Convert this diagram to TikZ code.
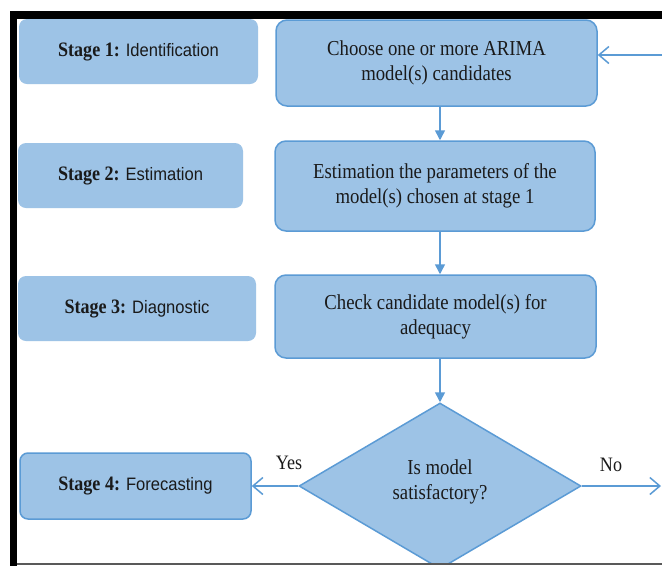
\documentclass[tikz,border=0pt]{standalone}
\usepackage{fontspec}
\setmainfont{Liberation Serif}[FakeStretch=0.88]
\newfontfamily\arialfont{Liberation Sans}[FakeStretch=0.92]
\usetikzlibrary{shapes.geometric,arrows.meta}
\definecolor{stagefill}{HTML}{9DC3E6}
\definecolor{boxfill}{HTML}{9DC3E6}
\definecolor{edgeblue}{HTML}{5B9BD5}
\definecolor{txt}{HTML}{1A1A1A}
\tikzset{
  stagebox/.style={fill=stagefill, rounded corners=8pt, inner sep=0pt, font=\fontsize{20.5}{24}\selectfont, text=txt},
  procbox/.style={fill=boxfill, draw=edgeblue, line width=1.5pt, rounded corners=11pt, inner sep=0pt, align=center,
     font=\fontsize{21.3}{25}\selectfont, text=txt},
  flow/.style={draw=edgeblue, line width=1.5pt},
  downarrow/.style={flow, -{Triangle[length=10pt,width=10pt]}},
  sidearrow/.style={flow, -{Straight Barb[length=10pt,width=17pt,line width=1.5pt]}},
  lbl/.style={font=\fontsize{20.5}{24}\selectfont, text=txt, inner sep=0pt}
}
\newcommand{\stg}[2]{\textbf{Stage #1:} {\arialfont\fontsize{18}{22}\selectfont #2}}
\begin{document}
\begin{tikzpicture}[x=1pt,y=-1pt]
\useasboundingbox (0,0) rectangle (662,566);
\fill[white] (0,0) rectangle (662,566);
% frame
\fill[black] (10,11) rectangle (662,19);
\fill[black] (10,11) rectangle (17,566);
\fill[black!65] (17,562.5) rectangle (662,564.5);
% stage boxes
\node[stagebox, minimum width=239pt, minimum height=65pt] (s1) at (138.5,51.5) {\stg{1}{Identification}};
\node[stagebox, minimum width=225pt, minimum height=65pt] (s2) at (130.5,175.5) {\stg{2}{Estimation}};
\node[stagebox, minimum width=238pt, minimum height=65pt] (s3) at (137,308.5) {\stg{3}{Diagnostic}};
\node[stagebox, draw=edgeblue, line width=1.5pt, minimum width=231pt, minimum height=66pt] (s4) at (135.5,486) {\stg{4}{Forecasting}};
% process boxes
\node[procbox, minimum width=321pt, minimum height=86pt] (b1) at (436.5,63) {Choose one or more ARIMA\\model(s) candidates};
\node[procbox, minimum width=320pt, minimum height=90pt] (b2) at (435,186) {Estimation the parameters of the\\model(s) chosen at stage 1};
\node[procbox, minimum width=321pt, minimum height=83pt] (b3) at (435.5,316.5) {Check candidate model(s) for\\adequacy};
% decision
\begin{scope}
\clip (17,19) rectangle (662,562.5);
\node[diamond, fill=boxfill, draw=edgeblue, line width=1.5pt, inner sep=0pt, minimum width=282pt, minimum height=166pt] (d) at (440,486) {};
\end{scope}
\node[lbl, align=center, font=\fontsize{21.3}{25}\selectfont] (dq) at (440,482) {Is model\\satisfactory?};
% connectors
\draw[downarrow] (b1.south -| d.north) -- (b2.north -| d.north);
\draw[downarrow] (b2.south -| d.north) -- (b3.north -| d.north);
\draw[downarrow] (b3.south -| d.north) -- (d.north);
\draw[sidearrow] (d.west) -- (s4.east);
\coordinate (noend) at (661,486);
\draw[sidearrow] (d.east) -- (noend);
\coordinate (fb) at (662,55);
\draw[sidearrow] (fb) -- (fb -| b1.east);
% labels
\node[lbl] (yes) at (289,463) {Yes};
\node[lbl] (no) at (611,465) {No};
\end{tikzpicture}
\end{document}
